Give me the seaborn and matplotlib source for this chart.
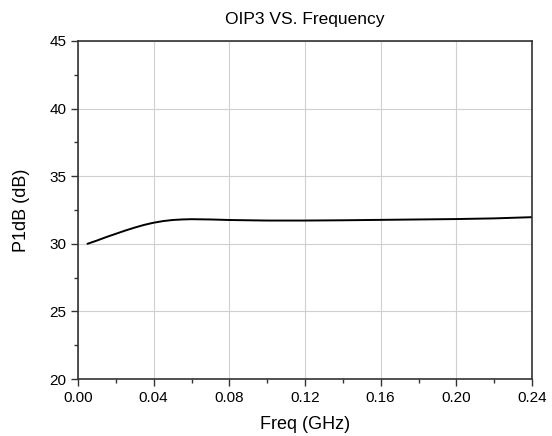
import matplotlib
matplotlib.use("Agg")
import matplotlib.pyplot as plt
import seaborn as sns
import pandas as pd
from matplotlib.ticker import MultipleLocator

freq = [0.005, 0.0075, 0.01, 0.015, 0.02, 0.025, 0.03, 0.035, 0.04, 0.045, 0.05, 0.055, 0.06, 0.07, 0.08, 0.10, 0.12, 0.14, 0.16, 0.18, 0.20, 0.22, 0.24]
p1db = [30.0, 30.12, 30.24, 30.5, 30.74, 30.98, 31.2, 31.4, 31.56, 31.68, 31.76, 31.8, 31.82, 31.8, 31.76, 31.72, 31.72, 31.74, 31.77, 31.8, 31.83, 31.88, 31.97]
xticks = [0.00, 0.04, 0.08, 0.12, 0.16, 0.20, 0.24]
yticks = [20, 25, 30, 35, 40, 45]

sns.set_style("white")
plt.rcParams['font.family'] = ['Liberation Sans', 'DejaVu Sans']
plt.rcParams['text.color'] = 'black'
plt.rcParams['axes.labelcolor'] = 'black'

df = pd.DataFrame({"freq": freq, "p1db": p1db})
fig = plt.figure(figsize=(5.52, 4.36), dpi=100)
ax = fig.add_axes([0.1413, 0.1307, 0.8225, 0.7753])
sns.lineplot(data=df, x="freq", y="p1db", ax=ax, color="black", linewidth=1.4)

ax.set_xlim(0, 0.24)
ax.set_ylim(20, 45)
ax.set_xticks(xticks)
ax.set_xticklabels([f"{v:.2f}" for v in xticks])
ax.set_yticks(yticks)
ax.xaxis.set_minor_locator(MultipleLocator(0.02))
ax.yaxis.set_minor_locator(MultipleLocator(2.5))
ax.grid(True, which="major", color="#d0d0d0", linewidth=0.8)
ax.tick_params(axis="both", which="major", direction="out", length=5, width=1, colors="#333333", labelsize=11, labelcolor="black", bottom=True, left=True)
ax.tick_params(axis="both", which="minor", direction="out", length=3, width=1, colors="#333333", bottom=True, left=True)
for s in ax.spines.values():
    s.set_color("#333333")
    s.set_linewidth(1.2)
ax.set_xlabel("Freq (GHz)", fontsize=13, labelpad=8, color="black")
ax.set_ylabel("P1dB (dB)", fontsize=13, labelpad=14, color="black")
ax.set_title("OIP3 VS. Frequency", fontsize=12.5, pad=12, color="black")
fig.savefig("out.png", dpi=100)
